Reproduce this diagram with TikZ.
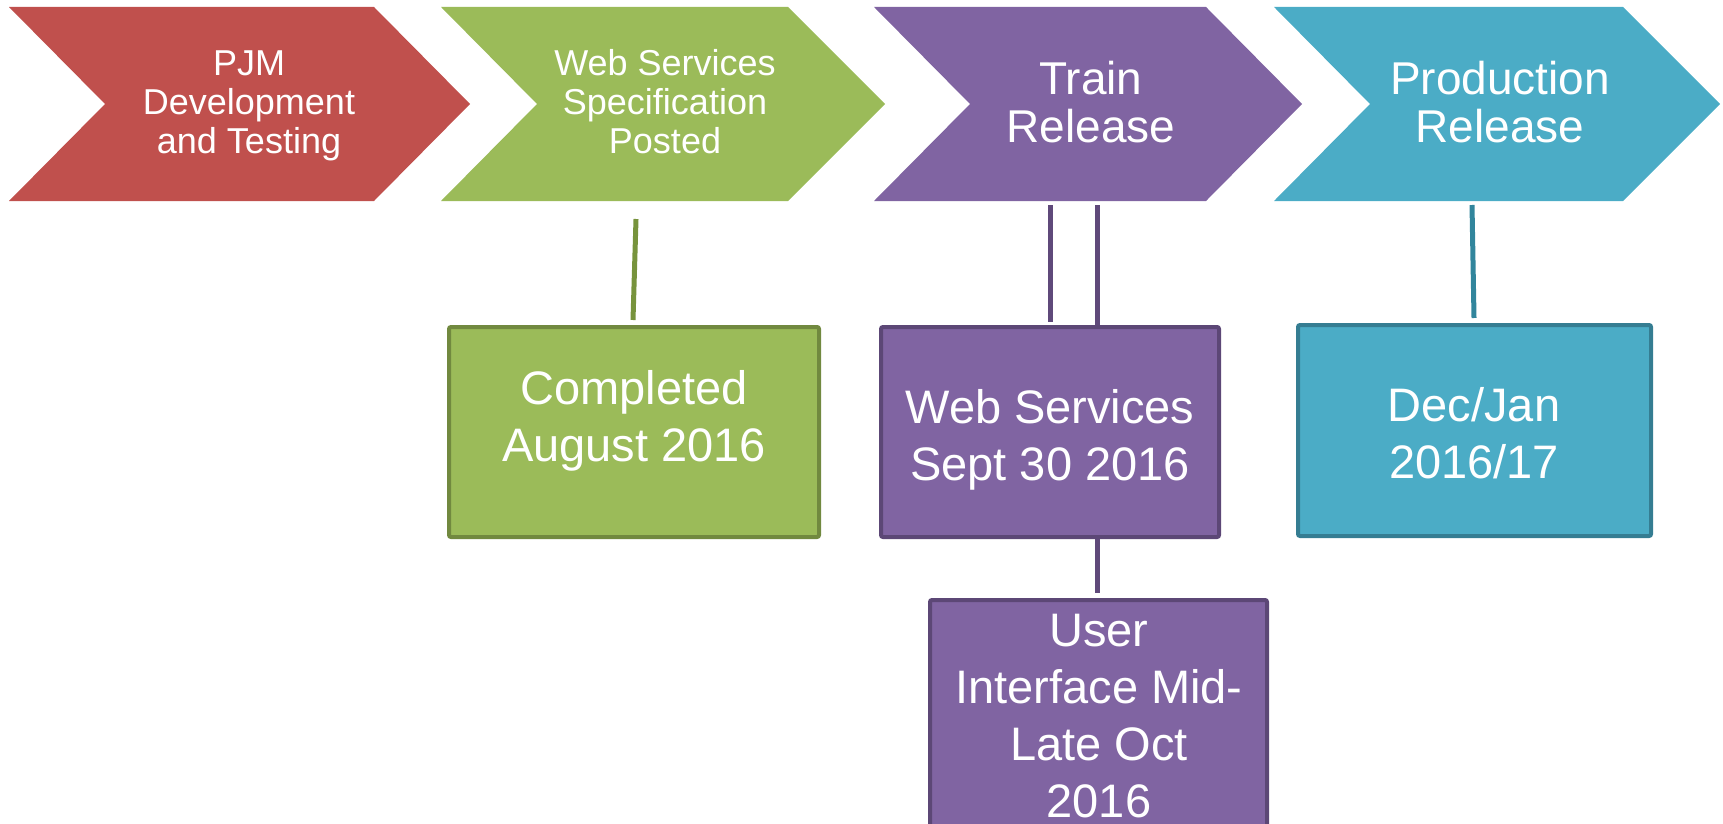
\documentclass[tikz,border=0pt]{standalone}
\usepackage{fontspec}
\setmainfont{Liberation Sans}
\definecolor{cred}{HTML}{C0504D}
\definecolor{cgreen}{HTML}{9BBB59}
\definecolor{cpurple}{HTML}{8064A2}
\definecolor{cblue}{HTML}{4BACC6}
\definecolor{dgreen}{HTML}{71893F}
\definecolor{dpurple}{HTML}{5C4776}
\definecolor{dblue}{HTML}{357D92}
\definecolor{lgreen}{HTML}{77933C}
\definecolor{lpurple}{HTML}{5F497A}
\definecolor{lblue}{HTML}{31859C}
\tikzset{
  chevtext/.style={text=white, align=center, inner sep=0pt, font=\fontsize{36}{39}\selectfont},
  chevbig/.style={text=white, align=center, inner sep=0pt, font=\fontsize{46}{48}\selectfont},
  boxtext/.style={text=white, align=center, inner sep=0pt, font=\fontsize{47}{57}\selectfont},
  datebox/.style={draw, line width=4pt, rounded corners=2pt, minimum width=#1, inner sep=0pt},
  conn/.style={line width=5pt}
}
\begin{document}
\begin{tikzpicture}[x=1pt,y=-1pt]
\useasboundingbox (0,0) rectangle (1723,824);
% chevrons
\fill[cred]    (9,7)   -- (374,7)  -- (470,104)  -- (374,201)  -- (9,201)   -- (105,104)  -- cycle;
\fill[cgreen]  (441,7) -- (788,7)  -- (885,104)  -- (788,201)  -- (441,201) -- (537,104)  -- cycle;
\fill[cpurple] (874,7) -- (1206,7) -- (1302,104) -- (1206,201) -- (874,201) -- (970,104)  -- cycle;
\fill[cblue]   (1274,7)-- (1623,7) -- (1720,104) -- (1623,201) -- (1274,201)-- (1370,104) -- cycle;
\node[chevtext] (c1) at (249,106) {PJM\\Development\\and Testing};
\node[chevtext] (c2) at (665,102) {Web Services\\Specification\\Posted};
\node[chevbig]  (c3) at (1091,102) {Train\\Release};
\node[chevbig]  (c4) at (1500,102) {Production\\Release};
% boxes
\node[datebox=370pt, minimum height=210pt, fill=cgreen, draw=dgreen] (b1) at (634,432) {};
\node[boxtext] (t1) at (634,421) {Completed\\August 2016};
\node[datebox=338pt, minimum height=210pt, fill=cpurple, draw=dpurple] (b2) at (1050,432) {};
\node[boxtext] (t2) at (1050,440) {Web Services\\Sept 30 2016};
\node[datebox=353pt, minimum height=211pt, fill=cblue, draw=dblue] (b3) at (1474.5,430.5) {};
\node[boxtext] (t3) at (1474,433) {Dec/Jan\\2016/17};
\node[datebox=337pt, minimum height=232pt, fill=cpurple, draw=dpurple] (b4) at (1098.5,716) {};
\node[boxtext] (t4) at (1099,716) {User\\Interface Mid-\\Late Oct\\2016};
% connectors
\coordinate (g1) at (636,219);
\coordinate (g2) at (633,320);
\coordinate (p1) at (1050,205);
\coordinate (p2) at (1050,322);
\coordinate (p3) at (1097,205);
\coordinate (p5) at (1097,593);
\coordinate (q1) at (1472,205);
\coordinate (q2) at (1474,318);
\draw[conn, lgreen] (g1) -- (g2);
\draw[conn, lpurple] (p1) -- (p2);
\draw[conn, lpurple] (p3) -- (p3 |- b2.north);
\draw[conn, lpurple] (p3 |- b2.south) -- (p5);
\draw[conn, lblue] (q1) -- (q2);
\end{tikzpicture}
\end{document}
